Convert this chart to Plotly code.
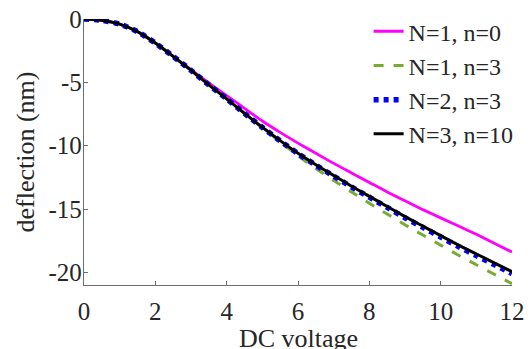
import plotly.graph_objects as go

# DC voltage sweep
voltage = [0, 0.5, 1, 1.5, 2, 2.5, 3, 3.5, 4, 4.5, 5, 5.5, 6,
           6.5, 7, 7.5, 8, 8.5, 9, 9.5, 10, 10.5, 11, 11.5, 12]

# deflection (nm) for each model order
defl_N1_n0 = [0, -0.1, -0.4, -1.0, -1.9, -2.95, -4.0, -5.05, -6.05, -7.05, -8.05, -8.95, -9.8,
              -10.6, -11.4, -12.15, -12.9, -13.65, -14.35, -15.05, -15.7, -16.35, -17.0, -17.7, -18.4]
defl_N1_n3 = [0, -0.1, -0.4, -1.0, -1.9, -2.95, -4.05, -5.2, -6.3, -7.45, -8.6, -9.7, -10.8,
              -11.8, -12.75, -13.65, -14.55, -15.4, -16.25, -17.05, -17.85, -18.65, -19.4, -20.15, -20.9]
defl_N2_n3 = [0, -0.1, -0.4, -1.0, -1.9, -2.95, -4.05, -5.2, -6.3, -7.45, -8.56, -9.62, -10.63,
              -11.54, -12.4, -13.26, -14.07, -14.88, -15.69, -16.45, -17.21, -17.97, -18.68, -19.39, -20.1]
defl_N3_n10 = [0, -0.1, -0.4, -1.0, -1.9, -2.95, -4.05, -5.2, -6.3, -7.45, -8.55, -9.6, -10.6,
               -11.5, -12.35, -13.2, -14.0, -14.8, -15.6, -16.35, -17.1, -17.85, -18.55, -19.25, -19.95]

series = [
    ("N=1, n=0", defl_N1_n0, "#ff00ff", 2.8, "solid"),
    ("N=1, n=3", defl_N1_n3, "#77ac30", 3, "10px,10px"),
    ("N=2, n=3", defl_N2_n3, "#0000ff", 5.5, "5px,5px"),
    ("N=3, n=10", defl_N3_n10, "#000000", 3, "solid"),
]

x_ticks = [0, 2, 4, 6, 8, 10, 12]
x_ticktext = ["0", "2", "4", "6", "8", "10", "12"]
y_ticks = [-20, -15, -10, -5, 0]
y_ticktext = ["-20", "-15", "-10", "-5", "0"]

FONT = "Liberation Serif, Times New Roman, serif"
AXIS_GREY = "#6e6e6e"
TEXT = "#262626"

fig = go.Figure()
for name, vals, color, width, dash in series:
    fig.add_trace(go.Scatter(
        x=voltage, y=vals, mode="lines", name=name,
        line=dict(color=color, width=width, dash=dash, shape="spline", smoothing=0.6),
    ))

axis_common = dict(
    showline=True, linecolor=AXIS_GREY, linewidth=1.3,
    ticks="inside", ticklen=4, tickcolor=AXIS_GREY, tickwidth=1.2,
    showgrid=False, zeroline=False, mirror=False, automargin=False,
    tickfont=dict(family=FONT, size=25, color=TEXT),
)

fig.update_layout(
    width=532, height=349,
    margin=dict(l=84, r=20, t=19, b=64, autoexpand=False),
    paper_bgcolor="white", plot_bgcolor="white",
    font=dict(family=FONT, color=TEXT),
    xaxis=dict(
        range=[0, 12], tickvals=x_ticks, ticktext=x_ticktext, ticklabelstandoff=4,
        **axis_common,
    ),
    yaxis=dict(
        range=[-21, 0], tickvals=y_ticks, ticktext=y_ticktext, ticklabelstandoff=-4,
        title=dict(text="deflection (nm)", font=dict(family=FONT, size=26, color=TEXT), standoff=6),
        **axis_common,
    ),
    legend=dict(
        x=0.665, y=1.037, xanchor="left", yanchor="top",
        font=dict(family=FONT, size=24, color=TEXT),
        bgcolor="rgba(0,0,0,0)", borderwidth=0, tracegroupgap=0,
    ),
    showlegend=True,
)

# x-axis title sits low, close to the bottom edge
fig.add_annotation(
    text="DC voltage", xref="paper", yref="paper", x=0.5, y=0,
    xanchor="center", yanchor="top", yshift=-37, showarrow=False,
    font=dict(family=FONT, size=26, color=TEXT),
)

fig.write_html("out.html")
